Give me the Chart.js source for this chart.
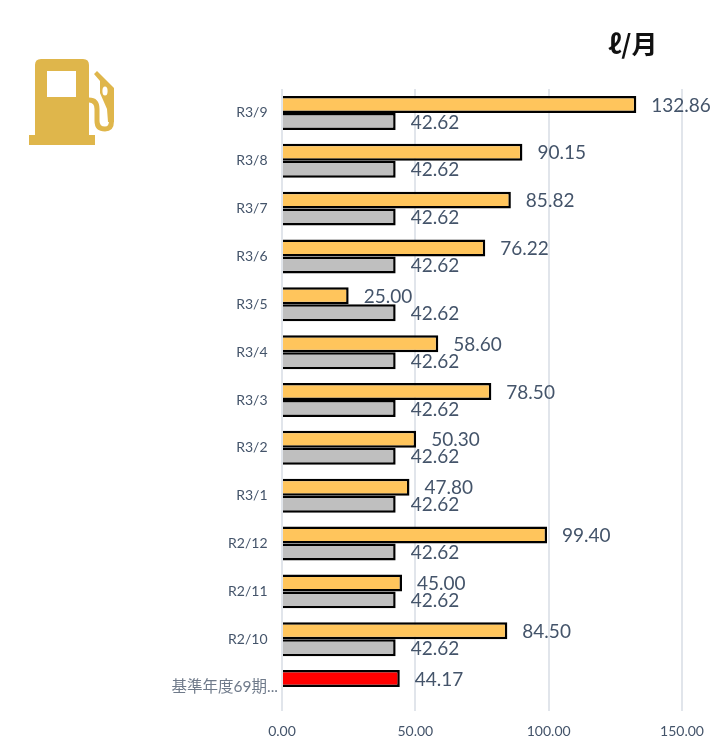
<!DOCTYPE html>
<html><head><meta charset="utf-8">
<script src="https://cdn.jsdelivr.net/npm/chart.js@4"></script>
<style>
html,body{margin:0;padding:0;background:#fff;width:727px;height:741px;overflow:hidden}
#wrap{position:relative;width:727px;height:741px}
canvas{position:absolute;left:0;top:0}
#unit{position:absolute;left:608px;top:26px;font:bold 26px "Noto Sans CJK JP";color:#111;line-height:34px;white-space:nowrap}
#icon{position:absolute;left:29px;top:59px}
</style></head><body>
<div id="wrap">
<canvas id="c" width="727" height="741"></canvas>
<div id="unit">ℓ/月</div>
<svg id="icon" width="86" height="87" viewBox="0 0 86 87">
<path fill="#DFB64B" d="M6 86V6Q6 0 12 0H54Q60 0 60 6V86Z M0 76H66V86H0Z"/>
<rect x="18" y="12" width="29" height="26" fill="#fff"/>
<path fill="none" stroke="#DFB64B" stroke-width="5" d="M60 41Q68 41 68 50V62Q68 70 76 70Q82.5 70 82.5 62"/>
<path fill="#DFB64B" d="M65 15L68 12L85 29V63H79L78 50L71 34V22Z"/>
<ellipse cx="76" cy="32" rx="2.6" ry="4.5" fill="#fff"/>
</svg>
</div>
<script>
const categories = ['R3/9','R3/8','R3/7','R3/6','R3/5','R3/4','R3/3','R3/2','R3/1','R2/12','R2/11','R2/10','基準年度69期...'];
const actualValues = [132.86,90.15,85.82,76.22,25.00,58.60,78.50,50.30,47.80,99.40,45.00,84.50,44.17];
const targetValues = [42.62,42.62,42.62,42.62,42.62,42.62,42.62,42.62,42.62,42.62,42.62,42.62,null];
const actualColors = categories.map((c,i)=> i===categories.length-1 ? '#FF0000' : '#FFC55C');
const xTicks = {min:0,max:150,step:50};
const fontFamily = 'Lato, "Noto Sans CJK JP", sans-serif';

const valueLabels = {
  id:'valueLabels',
  afterDatasetsDraw(chart){
    const ctx = chart.ctx;
    ctx.save();
    ctx.font = '19px '+fontFamily;
    ctx.fillStyle = '#44546A';
    ctx.textAlign = 'left';
    ctx.textBaseline = 'middle';
    chart.data.datasets.forEach((ds,di)=>{
      chart.getDatasetMeta(di).data.forEach((el,i)=>{
        if(ds.data[i]==null) return;
        ctx.fillText(ds.data[i].toFixed(2), el.x+15, el.y+1);
      });
    });
    ctx.restore();
  }
};

new Chart(document.getElementById('c'),{
  type:'bar',
  data:{labels:categories,datasets:[
    {data:actualValues,backgroundColor:actualColors,borderColor:'#000',borderWidth:2.5},
    {data:targetValues,backgroundColor:'#BFBFBF',borderColor:'#000',borderWidth:2.5}
  ]},
  options:{
    indexAxis:'y',responsive:false,animation:false,
    devicePixelRatio:1,
    layout:{padding:{top:89,right:45,left:0,bottom:0}},
    categoryPercentage:0.71,barPercentage:1,
    plugins:{legend:{display:false},tooltip:{enabled:false},title:{display:false}},
    scales:{
      x:{min:xTicks.min,max:xTicks.max,
        ticks:{stepSize:xTicks.step,callback:v=>v.toFixed(2),color:'#44546A',font:{size:14,family:fontFamily},padding:12,maxRotation:0},
        grid:{color:'#E1E5EB',lineWidth:2,drawTicks:false},border:{display:false},
        afterFit(s){s.height=30;}},
      y:{
        ticks:{autoSkip:false,padding:-4,
          font:ctx=>({size:ctx.index===categories.length-1?15.5:14,family:fontFamily}),
          color:ctx=>ctx.index===categories.length-1?'#6F7A8A':'#44546A',
          callback(v,i){const t=categories[i];return i===categories.length-1?t:t+'\u2002\u2009\u2009';}},
        grid:{display:false},border:{display:false},
        afterFit(s){s.width=282;}}
    }
  },
  plugins:[valueLabels]
});
</script>
</body></html>
